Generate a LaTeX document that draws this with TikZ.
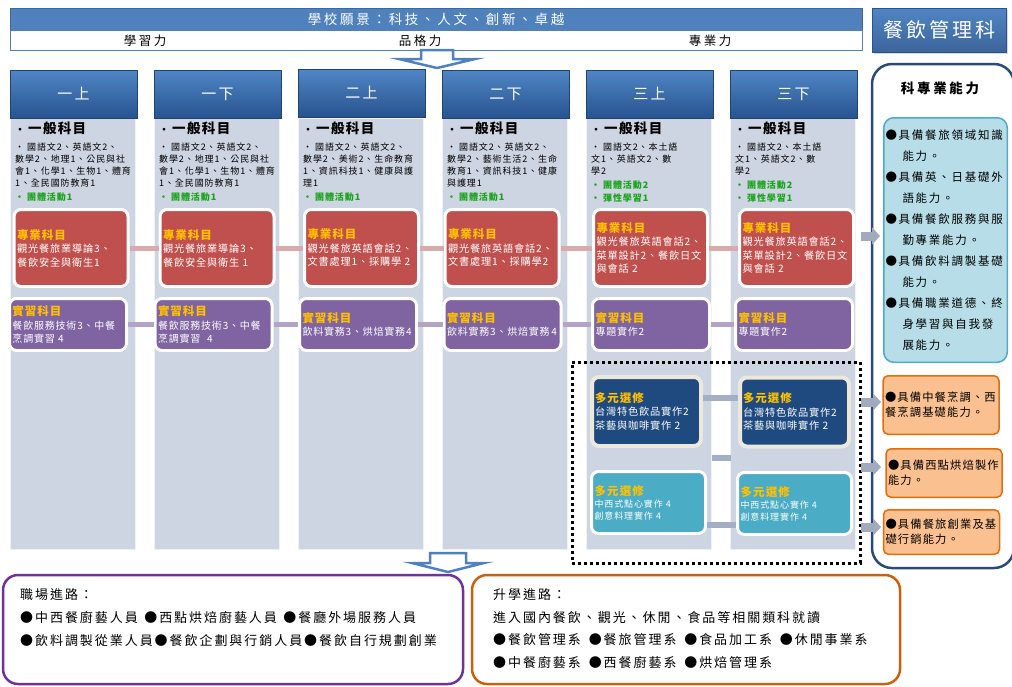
\documentclass[tikz,border=0pt]{standalone}
\usepackage{fontspec}
\setmainfont{Noto Sans CJK TC}
\newfontfamily\cjkA[LetterSpace=10]{Noto Sans CJK TC}
\newfontfamily\cjkB[LetterSpace=8]{Noto Sans CJK TC}
\newfontfamily\cjkC[LetterSpace=20]{Noto Sans CJK TC}
\newfontfamily\cjkD[LetterSpace=15]{Noto Sans CJK TC}
\usetikzlibrary{arrows.meta,shadows}
\definecolor{colbg}{HTML}{CDD4E2}
\definecolor{hdrtop}{HTML}{5085C6}
\definecolor{hdrbot}{HTML}{27548F}
\definecolor{redbox}{HTML}{C0504D}
\definecolor{purbox}{HTML}{8064A2}
\definecolor{navbox}{HTML}{1F4A80}
\definecolor{tealbox}{HTML}{4BACC6}
\definecolor{cream}{HTML}{ECE9DC}
\definecolor{ttl}{HTML}{FFC000}
\definecolor{grn}{HTML}{18A418}
\definecolor{lnR}{HTML}{D9AAAA}
\definecolor{lnP}{HTML}{B2A3C8}
\definecolor{lnB}{HTML}{A3AFC7}
\definecolor{arrg}{HTML}{A2ABBD}
\definecolor{bannerblue}{HTML}{4F81BD}
\definecolor{panelb}{HTML}{2A4A7A}
\definecolor{ltblue}{HTML}{B7DEE8}
\definecolor{ltblueb}{HTML}{4BACC6}
\definecolor{orf}{HTML}{FAC090}
\definecolor{orb}{HTML}{E46C0A}
\definecolor{purb}{HTML}{7030A0}
\definecolor{brnb}{HTML}{C8620E}
\newcommand\boxttl[1]{{\bfseries\color{ttl}\fontsize{11.5}{14}\selectfont #1}}
\begin{document}
\begin{tikzpicture}[x=1pt,y=-1pt,
  colbody/.style={fill=colbg, draw=white!70!colbg, minimum width=125pt, minimum height=431pt, inner sep=0pt, drop shadow={opacity=0.25,shadow xshift=1pt,shadow yshift=-1pt}},
  hdrbox/.style={top color=hdrtop, bottom color=hdrbot, draw=hdrbot!80!black, minimum width=127pt, minimum height=48pt, inner sep=0pt, text=white, font={\cjkD\fontsize{15}{15}\selectfont}},
  gtitle/.style={anchor=west, inner sep=0pt, font={\cjkA\fontsize{13.5}{14}\selectfont\bfseries}},
  glist/.style={anchor=west, inner sep=0pt, align=left, font={\cjkA\fontsize{9}{12.2}\selectfont}},
  ggreen/.style={anchor=west, inner sep=0pt, align=left, text=grn, font={\cjkA\fontsize{9}{13.5}\selectfont\bfseries}},
  subjbox/.style={draw=white, line width=3pt, rounded corners=7pt, text=white, align=left, inner xsep=3pt, inner ysep=2pt, font={\cjkB\fontsize{10.2}{13.5}\selectfont}, drop shadow={opacity=0.35,shadow xshift=1pt,shadow yshift=-1.5pt}},
  redsub/.style={subjbox, fill=redbox, text width=108pt, minimum height=77pt},
  pursub/.style={subjbox, fill=purbox, text width=111pt, minimum height=52pt, font={\cjkB\fontsize{10}{13.5}\selectfont}},
  navsub/.style={subjbox, fill=navbox, draw=cream, line width=4pt, text width=103pt, minimum height=69pt},
  tealsub/.style={subjbox, fill=tealbox, text width=108pt, minimum height=62pt, font={\cjkA\fontsize{9}{12}\selectfont}},
  lnRed/.style={draw=lnR, line width=5pt},
  lnPur/.style={draw=lnP, line width=5pt},
  lnBlu/.style={draw=lnB, line width=6pt},
  garrow/.style={draw=arrg, line width=9pt, -{Triangle[width=17pt,length=8pt]}},
  hollow/.style={draw=bannerblue, line width=2.5pt, fill=white, line join=miter},
  orbox/.style={fill=orf, draw=orb, line width=1.5pt, rounded corners=5pt, align=left, text width=112pt, inner xsep=2pt, font={\cjkA\fontsize{11.3}{15}\selectfont}},
  pathbox/.style={fill=white, line width=2.5pt, rounded corners=15pt, minimum height=109pt, inner sep=0pt},
  pathtxt/.style={anchor=west, inner sep=0pt, align=left, font={\cjkD\fontsize{13}{22.7}\selectfont}},
  powertxt/.style={inner sep=0pt, font={\cjkC\fontsize{12.5}{13}\selectfont}}
]
\useasboundingbox (0,0) rectangle (1012,686);
\fill[white] (0,0) rectangle (1012,686);

% ---------- top banner ----------
\node[fill=bannerblue, draw=bannerblue!80!black, minimum width=852pt, minimum height=22pt, inner sep=0pt, text=white, font={\cjkC\fontsize{13.5}{14}\selectfont}] (vis) at (436,19) {學校願景：科技、人文、創新、卓越};
\node[draw=bannerblue, fill=white, minimum width=852pt, minimum height=20pt, inner sep=0pt] (pw) at (436,40) {};
\node[powertxt] (pw1) at (145,41) {學習力};
\node[powertxt] (pw2) at (420,41) {品格力};
\node[powertxt] (pw3) at (710,41) {專業力};
\node[top color=hdrtop, bottom color=hdrbot!90, draw=hdrbot, minimum width=134pt, minimum height=44pt, inner sep=0pt, text=white, font={\cjkD\fontsize{20}{20}\selectfont}, drop shadow={opacity=0.3,shadow xshift=1.5pt,shadow yshift=-1.5pt}] (dept) at (939,30) {餐飲管理科};

\draw[hollow] (421,50) -- (453,50) -- (453,59) -- (475,59) -- (437,68) -- (399,59) -- (421,59) -- cycle;

% ---------- columns ----------
\foreach \i/\cx in {1/72.5,2/216.5,3/360.5,4/504.5,5/648.5,6/792.5}{
  \node[colbody] (c\i) at (\cx,333.5) {};
}
\node[hdrbox] (h1) at (73.5,94) {一上};
\node[hdrbox] (h2) at (217.5,94) {一下};
\node[hdrbox] (h3) at (361.5,93) {二上};
\node[hdrbox] (h4) at (505.5,94) {二下};
\node[hdrbox] (h5) at (649.5,94) {三上};
\node[hdrbox] (h6) at (793.5,94) {三下};

% general subjects
\node[gtitle] (g1) at (15,128) {{\fontsize{10}{10}\selectfont •}\hspace{3pt}一般科目};
\node[gtitle] (g2) at (159,128) {{\fontsize{10}{10}\selectfont •}\hspace{3pt}一般科目};
\node[gtitle] (g3) at (303,128) {{\fontsize{10}{10}\selectfont •}\hspace{3pt}一般科目};
\node[gtitle] (g4) at (447,128) {{\fontsize{10}{10}\selectfont •}\hspace{3pt}一般科目};
\node[gtitle] (g5) at (591,128) {{\fontsize{10}{10}\selectfont •}\hspace{3pt}一般科目};
\node[gtitle] (g6) at (735,128) {{\fontsize{10}{10}\selectfont •}\hspace{3pt}一般科目};

\node[glist] (l1) at (15,165) {• 國語文2、英語文2、\\數學2、地理1、公民與社\\會1、化學1、生物1、體育\\1、全民國防教育1};
\node[glist] (l2) at (159,165) {• 國語文2、英語文2、\\數學2、地理1、公民與社\\會1、化學1、生物1、體育\\1、全民國防教育1};
\node[glist] (l3) at (303,165) {• 國語文2、英語文2、\\數學2、美術2、生命教育\\1、資訊科技1、健康與護\\理1};
\node[glist] (l4) at (447,165) {• 國語文2、英語文2、\\數學2、藝術生活2、生命\\教育1、資訊科技1、健康\\與護理1};
\node[glist] (l5) at (591,159) {• 國語文2、本土語\\文1、英語文2、數\\學2};
\node[glist] (l6) at (735,159) {• 國語文2、本土語\\文1、英語文2、數\\學2};

\node[ggreen] (e1) at (15,197) {• 團體活動1};
\node[ggreen] (e2) at (159,197) {• 團體活動1};
\node[ggreen] (e3) at (303,197) {• 團體活動1};
\node[ggreen] (e4) at (447,197) {• 團體活動1};
\node[ggreen] (e5) at (591,191.5) {• 團體活動2\\• 彈性學習1};
\node[ggreen] (e6) at (735,191.5) {• 團體活動2\\• 彈性學習1};

% professional subjects
\node[redsub] (r1) at (71,248) {\boxttl{專業科目}\\觀光餐旅業導論3、\\餐飲安全與衛生1};
\node[redsub] (r2) at (217,248) {\boxttl{專業科目}\\觀光餐旅業導論3、\\餐飲安全與衛生 1};
\node[redsub] (r3) at (361.5,248) {\boxttl{專業科目}\\觀光餐旅英語會話2、\\文書處理1、採購學 2};
\node[redsub] (r4) at (502,248) {\boxttl{專業科目}\\觀光餐旅英語會話2、\\文書處理1、採購學2};
\node[redsub] (r5) at (650.5,248) {\boxttl{專業科目}\\觀光餐旅英語會話2、\\菜單設計2、餐飲日文\\與會話 2};
\node[redsub] (r6) at (796.5,248) {\boxttl{專業科目}\\觀光餐旅英語會話2、\\菜單設計2、餐飲日文\\與會話 2};

% practice subjects
\node[pursub] (p1) at (68,324.5) {\boxttl{實習科目}\\餐飲服務技術3、中餐\\烹調實習 4};
\node[pursub] (p2) at (213.5,324.5) {\boxttl{實習科目}\\餐飲服務技術3、中餐\\烹調實習 \ 4};
\node[pursub] (p3) at (358,324.5) {\boxttl{實習科目}\\飲料實務3、烘焙實務4};
\node[pursub] (p4) at (502.5,324.5) {\boxttl{實習科目}\\飲料實務3、烘焙實務\hspace{1.5pt}4};
\node[pursub] (p5) at (651,324.5) {\boxttl{實習科目}\\專題實作2};
\node[pursub] (p6) at (794,324.5) {\boxttl{實習科目}\\專題實作2};

\foreach \a/\b in {1/2,2/3,3/4,4/5,5/6}{
  \draw[lnRed] (r\a) -- (r\b);
  \draw[lnPur] (p\a) -- (p\b);
}

% electives
\node[draw=black, line width=3pt, dash pattern=on 3pt off 3pt, minimum width=288pt, minimum height=201pt, inner sep=0pt] (sel) at (716,462.5) {};
\node[navsub] (n1) at (646.5,411.5) {\boxttl{多元選修}\\台灣特色飲品實作2\\茶藝與咖啡實作 2};
\node[navsub] (n2) at (794.5,412) {\boxttl{多元選修}\\台灣特色飲品實作2\\茶藝與咖啡實作 2};
\node[tealsub] (t1) at (648.5,502.5) {\boxttl{多元選修}\\中西式點心實作 4\\創意料理實作 4};
\node[tealsub] (t2) at (794.5,503.5) {\boxttl{多元選修}\\中西式點心實作 4\\創意料理實作 4};
\coordinate (ya) at (0,398);
\coordinate (yb) at (0,525);
\coordinate (m1) at (712,458);
\coordinate (m2) at (731,458);
\draw[lnBlu] (n1.east |- ya) -- (n2.west |- ya);
\draw[lnBlu] (t1.east |- yb) -- (t2.west |- yb);
\draw[lnBlu] (m1) -- (m2);

% ---------- right panel ----------
\node[draw=panelb, line width=2.5pt, rounded corners=20pt, fill=white, minimum width=142pt, minimum height=504pt, inner sep=0pt] (panel) at (943,316) {};
\node[inner sep=0pt, font={\cjkC\fontsize{13.5}{14}\selectfont\bfseries}] (ptitle) at (940,88) {科專業能力};
\node[fill=ltblue, draw=ltblueb, line width=1.5pt, rounded corners=10pt, minimum width=123.5pt, minimum height=244.5pt, text width=120pt, inner xsep=1.75pt, align=left, font={\cjkD\fontsize{11.5}{21}\selectfont}] (abil) at (945.5,240) {●具備餐旅領域知識\\\hspace*{17pt}能力。\\●具備英、日基礎外\\\hspace*{17pt}語能力。\\●具備餐飲服務與服\\\hspace*{17pt}勤專業能力。\\●具備飲料調製基礎\\\hspace*{17pt}能力。\\●具備職業道德、終\\\hspace*{17pt}身學習與自我發\\\hspace*{17pt}展能力。};
\node[orbox, minimum height=58.5pt] (o1) at (941,405) {●具備中餐烹調、西\\餐烹調基礎能力。};
\node[orbox, minimum height=48.5pt] (o2) at (944,473) {●具備西點烘焙製作\\能力。};
\node[orbox, minimum height=44.5pt] (o3) at (941.5,532) {●具備餐旅創業及基\\礎行銷能力。};
\coordinate (a1s) at (861,236);  \coordinate (a1e) at (880,236);
\coordinate (a2s) at (861,402);  \coordinate (a2e) at (881,402);
\coordinate (a3s) at (861,467);  \coordinate (a3e) at (881,467);
\coordinate (a4s) at (861,527);  \coordinate (a4e) at (881,527);
\draw[garrow] (a1s) -- (a1e);
\draw[garrow] (a2s) -- (a2e);
\draw[garrow] (a3s) -- (a3e);
\draw[garrow] (a4s) -- (a4e);

% ---------- bottom ----------
\draw[hollow] (430,553) -- (466,553) -- (466,563) -- (484,563) -- (448,572) -- (412,563) -- (430,563) -- cycle;
\node[pathbox, draw=purb, minimum width=460pt] (job) at (233,629.5) {};
\node[pathbox, draw=brnb, minimum width=428pt] (edu) at (686,629.5) {};
\node[pathtxt] (jobt) at (20,617.5) {職場進路：\\●中西餐廚藝人員\hspace{0.5em}●西點烘焙廚藝人員\hspace{0.5em}●餐廳外場服務人員\\●飲料調製從業人員●餐飲企劃與行銷人員●餐飲自行規劃創業};
\node[pathtxt] (edut) at (493,628.5) {升學進路：\\進入國內餐飲、觀光、休閒、食品等相關類科就讀\\●餐飲管理系\hspace{0.6em}●餐旅管理系\hspace{0.6em}●食品加工系\hspace{0.6em}●休閒事業系\\●中餐廚藝系\hspace{0.6em}●西餐廚藝系\hspace{0.6em}●烘焙管理系};
\end{tikzpicture}
\end{document}
